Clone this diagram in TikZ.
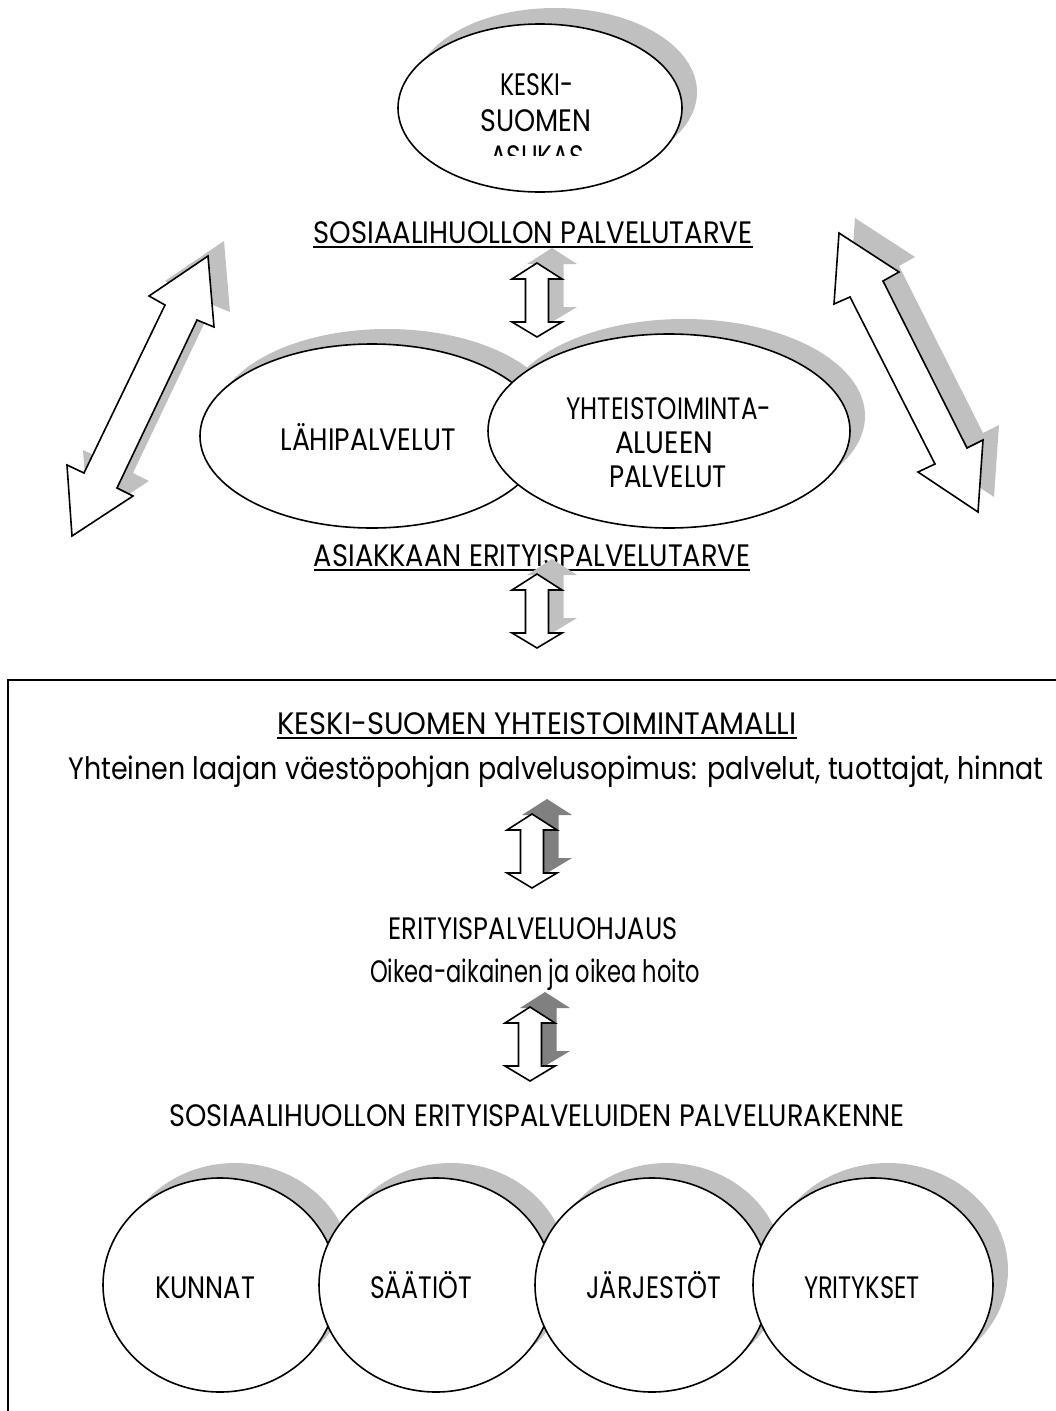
\documentclass[tikz,border=0pt]{standalone}
\usepackage{fontspec}
\setmainfont{Poppins}
\usepackage{graphicx}
\definecolor{shgray}{HTML}{C0C0C0}
\definecolor{shdark}{HTML}{808080}
\newcommand\fitw[2]{\resizebox{#1pt}{\height}{#2}}
\newcommand\vdpath{(0,-37) -- (25,-21) -- (11.5,-21) -- (11.5,22) -- (25,22) -- (0,37) -- (-25,22) -- (-11.5,22) -- (-11.5,-21) -- (-25,-21) -- cycle}
\tikzset{
  ellline/.style={draw=black, fill=white, line width=1.6pt},
  shad/.style={fill=shgray, draw=none},
  txt/.style={inner sep=0, anchor=base, font=\fontsize{31}{37}\selectfont},
  blockarrow/.style={fill=white, draw=black, line width=1.6pt, line join=miter},
  uline/.style={line width=2pt},
  frame/.style={line width=1.6pt}
}
\begin{document}
\begin{tikzpicture}[x=1pt,y=-1pt]
\useasboundingbox (0,0) rectangle (1056,1411);
\clip (0,0) rectangle (1056,1411);

% top ellipse
\coordinate (top) at (540,108);
\fill[shad] ([shift={(15,-16)}]top) ellipse [x radius=142, y radius=84];
\draw[ellline] (top) ellipse [x radius=142, y radius=84];
\begin{scope}
\clip (400,60) rectangle (680,155.5);
\node[txt] (t1) at (537,95) {\fitw{73}{KESKI-}};
\node[txt] (t2) at (536,131) {\fitw{111}{SUOMEN}};
\node[txt] (t3) at (537,167) {\fitw{94}{ASUKAS}};
\end{scope}

% label 1
\node[txt] (need1) at (533,243) {\fitw{439}{SOSIAALIHUOLLON PALVELUTARVE}};
\draw[uline] ([yshift=-3.5pt]need1.base west) -- ([yshift=-3.5pt]need1.base east);

% small arrow 1
\begin{scope}[shift={(552,285)}] \fill[shgray] \vdpath; \end{scope}
\begin{scope}[shift={(537,300)}] \draw[blockarrow] \vdpath; \end{scope}

% diagonal arrows
\begin{scope}[shift={(16,-15)}]
\fill[shgray] (208,256) -- (214,327) -- (197,320) -- (117,488) -- (133,496) -- (72,536) -- (67,465) -- (84,473) -- (165,305) -- (149,296) -- cycle;
\fill[shgray] (839,233) -- (899,272) -- (883,281) -- (967,448) -- (983,440) -- (978,512) -- (918,472) -- (935,464) -- (850,297) -- (834,304) -- cycle;
\end{scope}
\draw[blockarrow] (208,256) -- (214,327) -- (197,320) -- (117,488) -- (133,496) -- (72,536) -- (67,465) -- (84,473) -- (165,305) -- (149,296) -- cycle;
\draw[blockarrow] (839,233) -- (899,272) -- (883,281) -- (967,448) -- (983,440) -- (978,512) -- (918,472) -- (935,464) -- (850,297) -- (834,304) -- cycle;

% middle ellipses
\coordinate (lahi) at (372,436);
\coordinate (yht) at (669,431);
\fill[shad] ([shift={(15,-15)}]lahi) ellipse [x radius=172, y radius=92];
\draw[ellline] (lahi) ellipse [x radius=172, y radius=92];
\fill[shad] ([shift={(15,-15)}]yht) ellipse [x radius=181, y radius=97];
\draw[ellline] (yht) ellipse [x radius=181, y radius=97];
\node[txt] (l1) at (368,450) {\fitw{175}{LÄHIPALVELUT}};
\node[txt] (r1) at (669,419) {\fitw{205}{YHTEISTOIMINTA-}};
\node[txt] (r2) at (664,453) {\fitw{98}{ALUEEN}};
\node[txt] (r3) at (668,487) {\fitw{118}{PALVELUT}};

% label 2
\node[txt] (need2) at (532,566) {\fitw{436}{ASIAKKAAN ERITYISPALVELUTARVE}};
\draw[uline] ([yshift=-3.5pt]need2.base west) -- ([yshift=-3.5pt]need2.base east);

% small arrow 2
\begin{scope}[shift={(552,596)}] \fill[shgray] \vdpath; \end{scope}
\begin{scope}[shift={(537,611)}] \draw[blockarrow] \vdpath; \end{scope}

% box
\draw[frame] (1060,680) -- (8,680) -- (8,1415);

\node[txt] (title) at (537,734) {\fitw{519}{KESKI-SUOMEN YHTEISTOIMINTAMALLI}};
\draw[uline] ([yshift=-3.5pt]title.base west) -- ([yshift=-3.5pt]title.base east);
\node[txt] (sub) at (556,779) {\fitw{975}{Yhteinen laajan väestöpohjan palvelusopimus: palvelut, tuottajat, hinnat}};

\begin{scope}[shift={(547,836)}] \fill[shdark] \vdpath; \end{scope}
\begin{scope}[shift={(532,851)}] \draw[blockarrow] \vdpath; \end{scope}

\node[txt] (ohj) at (533,939) {\fitw{289}{ERITYISPALVELUOHJAUS}};
\node[txt] (hoito) at (535,982) {\fitw{330}{Oikea-aikainen ja oikea hoito}};

\begin{scope}[shift={(545,1029)}] \fill[shdark] \vdpath; \end{scope}
\begin{scope}[shift={(530,1044)}] \draw[blockarrow] \vdpath; \end{scope}

\node[txt] (rak) at (537,1126) {\fitw{735}{SOSIAALIHUOLLON ERITYISPALVELUIDEN PALVELURAKENNE}};

% circles
\foreach \nm/\cx/\rx in {c1/220/117, c2/436/117, c3/652/117, c4/873/120} {
  \coordinate (\nm) at (\cx,1285);
  \fill[shad] ([shift={(15,-15)}]\nm) ellipse [x radius=\rx, y radius=107];
  \draw[ellline] (\nm) ellipse [x radius=\rx, y radius=107];
}
\node[txt] (k1) at (205,1298) {\fitw{100}{KUNNAT}};
\node[txt] (k2) at (421,1298) {\fitw{102}{SÄÄTIÖT}};
\node[txt] (k3) at (654,1298) {\fitw{135}{JÄRJESTÖT}};
\node[txt] (k4) at (862,1298) {\fitw{116}{YRITYKSET}};
\end{tikzpicture}
\end{document}
